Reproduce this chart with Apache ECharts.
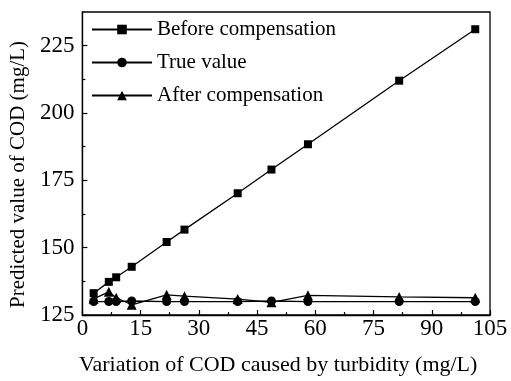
<!DOCTYPE html>
<html>
<head>
<meta charset="utf-8">
<script src="https://cdn.jsdelivr.net/npm/echarts@6/dist/echarts.min.js"></script>
<style>
  html, body { margin: 0; padding: 0; background: #fff; }
  #chart { width: 511px; height: 381px; }
</style>
</head>
<body>
<div id="chart"></div>
<script>
// COD variation caused by turbidity (mg/L)
const turbidityCOD = [2.9, 6.8, 8.7, 12.7, 21.7, 26.3, 40.0, 48.7, 58.1, 81.6, 101.2];
// Predicted COD (mg/L)
const beforeCompensation = [133.1, 137.3, 139.0, 142.9, 152.1, 156.7, 170.2, 179.0, 188.4, 212.0, 231.1];
const trueValue = [130.0, 130.0, 130.0, 130.2, 130.0, 130.0, 130.0, 130.2, 130.0, 130.0, 130.0];
const afterCompensation = [131.0, 133.6, 131.4, 128.8, 132.5, 132.0, 130.9, 129.7, 132.3, 131.7, 131.4];

const yMajorTicks = [125, 150, 175, 200, 225];
const yMinorTicks = [137.5, 162.5, 187.5, 212.5];

const FONT = 'Liberation Serif';

function pairs(xs, ys) {
  return xs.map((x, i) => [x, ys[i]]);
}

const chart = echarts.init(document.getElementById('chart'), null, { renderer: 'canvas' });

const lineStyle = { color: '#000', width: 1.3 };
const itemStyle = { color: '#000' };

chart.setOption({
  animation: false,
  backgroundColor: '#fff',
  grid: {
    left: 81, right: 21, top: 12, bottom: 50,
    show: true, borderColor: '#000', borderWidth: 1.3, backgroundColor: 'transparent'
  },
  legend: {
    orient: 'vertical',
    left: 86,
    top: 14,
    itemWidth: 60,
    itemHeight: 12,
    itemGap: 12,
    textStyle: { fontFamily: FONT, fontSize: 21, color: '#000' },
    data: ['Before compensation', 'True value', 'After compensation']
  },
  xAxis: {
    type: 'value',
    min: 0, max: 105, interval: 15,
    name: 'Variation of COD caused by turbidity (mg/L)',
    nameLocation: 'middle',
    nameGap: 39,
    nameTextStyle: { fontFamily: FONT, fontSize: 22, color: '#000', padding: [0, 16, 0, 0] },
    axisLine: { show: true, lineStyle: { color: '#000', width: 1.3 } },
    axisTick: { show: true, inside: true, length: 5, lineStyle: { color: '#000', width: 1.2 } },
    minorTick: { show: true, splitNumber: 2, length: 3, lineStyle: { color: '#000', width: 1.2 } },
    axisLabel: { fontFamily: FONT, fontSize: 23, color: '#000', margin: 2 },
    splitLine: { show: false }
  },
  yAxis: [
    {
      type: 'value',
      min: 125, max: 237.5, interval: 25,
      name: 'Predicted value of COD (mg/L)',
      nameLocation: 'middle',
      nameGap: 48,
      nameTextStyle: { fontFamily: FONT, fontSize: 21, color: '#000', padding: [0, 22, 0, 0] },
      axisLine: { show: true, lineStyle: { color: '#000', width: 1.3 } },
      axisTick: { show: true, inside: true, length: 5, customValues: yMajorTicks, lineStyle: { color: '#000', width: 1.2 } },
      axisLabel: { fontFamily: FONT, fontSize: 23, color: '#000', margin: 8, customValues: yMajorTicks },
      splitLine: { show: false }
    },
    {
      type: 'value',
      position: 'left',
      min: 125, max: 237.5, interval: 25,
      axisLine: { show: false },
      axisTick: { show: true, inside: true, length: 3, customValues: yMinorTicks, lineStyle: { color: '#000', width: 1.2 } },
      axisLabel: { show: false },
      splitLine: { show: false }
    }
  ],
  series: [
    {
      name: 'Before compensation',
      type: 'line',
      data: pairs(turbidityCOD, beforeCompensation),
      symbol: 'rect', symbolSize: 8,
      lineStyle, itemStyle
    },
    {
      name: 'True value',
      type: 'line',
      data: pairs(turbidityCOD, trueValue),
      symbol: 'circle', symbolSize: 9,
      lineStyle, itemStyle
    },
    {
      name: 'After compensation',
      type: 'line',
      data: pairs(turbidityCOD, afterCompensation),
      symbol: 'triangle', symbolSize: [10, 10],
      lineStyle, itemStyle
    }
  ]
});
</script>
</body>
</html>
